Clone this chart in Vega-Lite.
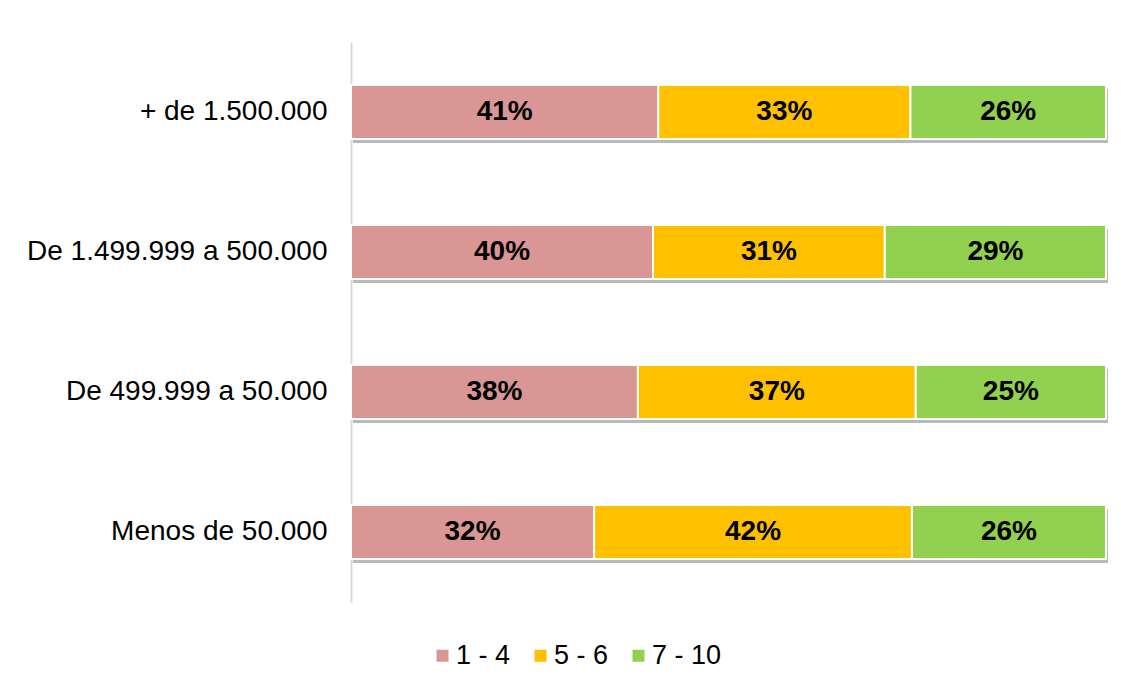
{
  "$schema": "https://vega.github.io/schema/vega-lite/v6.json",
  "autosize": {"type": "none"},
  "width": 755,
  "height": 560,
  "padding": {"left": 351, "top": 42, "right": 15, "bottom": 84},
  "background": "white",
  "config": {
    "view": {"stroke": null},
    "font": "Liberation Sans"
  },
  "data": {
    "values": [
      {"grupo": "+ de 1.500.000", "rango": "1 - 4", "valor": 0.407},
      {"grupo": "+ de 1.500.000", "rango": "5 - 6", "valor": 0.334},
      {"grupo": "+ de 1.500.000", "rango": "7 - 10", "valor": 0.259},
      {"grupo": "De 1.499.999 a 500.000", "rango": "1 - 4", "valor": 0.400},
      {"grupo": "De 1.499.999 a 500.000", "rango": "5 - 6", "valor": 0.307},
      {"grupo": "De 1.499.999 a 500.000", "rango": "7 - 10", "valor": 0.293},
      {"grupo": "De 499.999 a 50.000", "rango": "1 - 4", "valor": 0.380},
      {"grupo": "De 499.999 a 50.000", "rango": "5 - 6", "valor": 0.368},
      {"grupo": "De 499.999 a 50.000", "rango": "7 - 10", "valor": 0.252},
      {"grupo": "Menos de 50.000", "rango": "1 - 4", "valor": 0.322},
      {"grupo": "Menos de 50.000", "rango": "5 - 6", "valor": 0.421},
      {"grupo": "Menos de 50.000", "rango": "7 - 10", "valor": 0.257}
    ]
  },
  "encoding": {
    "y": {
      "field": "grupo",
      "type": "nominal",
      "sort": null,
      "scale": {"paddingInner": 0.614, "paddingOuter": 0.307},
      "axis": {
        "title": null,
        "ticks": false,
        "labelFontSize": 28,
        "labelLimit": 0,
        "labelColor": "#000000",
        "labelPadding": 24,
        "domainColor": "#d9d9d9",
        "domainWidth": 2,
        "labelFont": "Liberation Sans"
      }
    },
    "x": {
      "field": "valor",
      "type": "quantitative",
      "stack": "zero",
      "scale": {"domain": [0, 1], "nice": false},
      "axis": null
    },
    "order": {"field": "rango", "type": "nominal", "sort": "ascending"}
  },
  "layer": [
    {
      "mark": {"type": "bar", "color": "#666666", "opacity": 0.45, "yOffset": 4, "xOffset": 2}
    },
    {
      "mark": {"type": "bar", "stroke": "white", "strokeWidth": 2},
      "encoding": {
        "color": {
          "field": "rango",
          "type": "nominal",
          "scale": {"domain": ["1 - 4", "5 - 6", "7 - 10"], "range": ["#D99694", "#FFC000", "#92D050"]},
          "legend": {
            "title": null,
            "orient": "none",
            "direction": "horizontal",
            "legendX": 78,
            "legendY": 600,
            "symbolType": "square",
            "symbolSize": 144,
            "symbolStrokeWidth": 0,
            "labelFontSize": 27,
            "labelColor": "#000000",
            "labelFont": "Liberation Sans",
            "labelOffset": 0,
            "columnPadding": 16,
            "padding": 0
          }
        }
      }
    },
    {
      "mark": {"type": "text", "fontSize": 28, "fontWeight": "bold", "color": "#000000", "font": "Liberation Sans"},
      "encoding": {
        "x": {"field": "valor", "type": "quantitative", "stack": "zero", "bandPosition": 0.5},
        "text": {"field": "valor", "type": "quantitative", "format": ".0%"},
        "detail": {"field": "rango", "type": "nominal"}
      }
    }
  ]
}
